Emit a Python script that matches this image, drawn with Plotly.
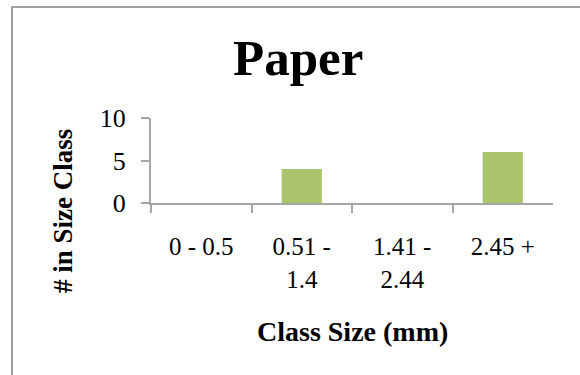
import plotly.graph_objects as go

# Particle size classes and counts for the paper sample
categories = ["0 - 0.5", "0.51 - 1.4", "1.41 - 2.44", "2.45 +"]
counts = [0, 4, 0, 6]
y_ticks = [0, 5, 10]

# Long "a - b" labels wrap after the dash onto a second line
tick_text = [c.replace("- ", "-<br>") if len(c) > 8 else c for c in categories]

SERIF = "Liberation Serif, Times New Roman, serif"
AXIS_GREY = "#a6a6a6"
FRAME_GREY = "#a0a0a0"

W, H = 580, 375
# plot-area edges in page pixels
PL, PR, PT, PB = 151, 553, 118, 203


def fx(x):
    return x / W


def fy(y):
    return 1 - y / H


fig = go.Figure()

fig.add_trace(
    go.Bar(
        x=categories,
        y=counts,
        marker=dict(color="#a9c46b", line=dict(width=0)),
        width=0.4,
        xaxis="x",
        yaxis="y",
    )
)

# Chart-area frame (left and top edges) on a full-page pixel axis pair
frame_x = [12, 12, W]
frame_y = [H, 7, 7]
fig.add_trace(
    go.Scatter(
        x=frame_x, y=frame_y, xaxis="x2", yaxis="y2",
        mode="lines", line=dict(color=FRAME_GREY, width=2),
        hoverinfo="skip", showlegend=False,
    )
)

fig.update_layout(
    width=W,
    height=H,
    margin=dict(l=0, r=0, t=0, b=0, autoexpand=False),
    paper_bgcolor="white",
    plot_bgcolor="rgba(0,0,0,0)",
    showlegend=False,
    font=dict(family=SERIF, color="black"),
    xaxis=dict(
        type="category",
        domain=[fx(PL), fx(PR)],
        anchor="y",
        range=[-0.5, 3.5],
        tickmode="array",
        tickvals=categories,
        ticktext=tick_text,
        tickson="boundaries",
        ticks="outside",
        ticklen=8,
        tickwidth=1.5,
        tickcolor=AXIS_GREY,
        showline=True,
        linecolor=AXIS_GREY,
        linewidth=2,
        showgrid=False,
        zeroline=False,
        tickfont=dict(family=SERIF, size=25, color="black"),
        ticklabelstandoff=20,
        fixedrange=True,
    ),
    yaxis=dict(
        domain=[fy(PB), fy(PT)],
        anchor="x",
        range=[0, 10],
        tickmode="array",
        tickvals=y_ticks,
        ticks="outside",
        ticklen=8,
        tickwidth=1.5,
        tickcolor=AXIS_GREY,
        showline=True,
        linecolor=AXIS_GREY,
        linewidth=2,
        showgrid=False,
        zeroline=False,
        tickfont=dict(family=SERIF, size=26, color="black"),
        ticklabelstandoff=10,
        fixedrange=True,
    ),
    xaxis2=dict(domain=[0, 1], range=[0, W], anchor="y2",
                visible=False, fixedrange=True),
    yaxis2=dict(domain=[0, 1], range=[H, 0], anchor="x2",
                visible=False, fixedrange=True),
)

# Chart title and axis titles
fig.add_annotation(
    text="<b>Paper</b>", xref="paper", yref="paper",
    x=fx(298), y=fy(58), xanchor="center", yanchor="middle",
    showarrow=False, font=dict(family=SERIF, size=51, color="black"),
)
fig.add_annotation(
    text="<b>Class Size (mm)</b>", xref="paper", yref="paper",
    x=fx(352), y=fy(331), xanchor="center", yanchor="middle",
    showarrow=False, font=dict(family=SERIF, size=28, color="black"),
)
fig.add_annotation(
    text="<b># in Size Class</b>", xref="paper", yref="paper",
    x=fx(63), y=fy(211), xanchor="center", yanchor="middle",
    textangle=-90, showarrow=False,
    font=dict(family=SERIF, size=27, color="black"),
)

fig.write_html("out.html", config={"displayModeBar": False})
